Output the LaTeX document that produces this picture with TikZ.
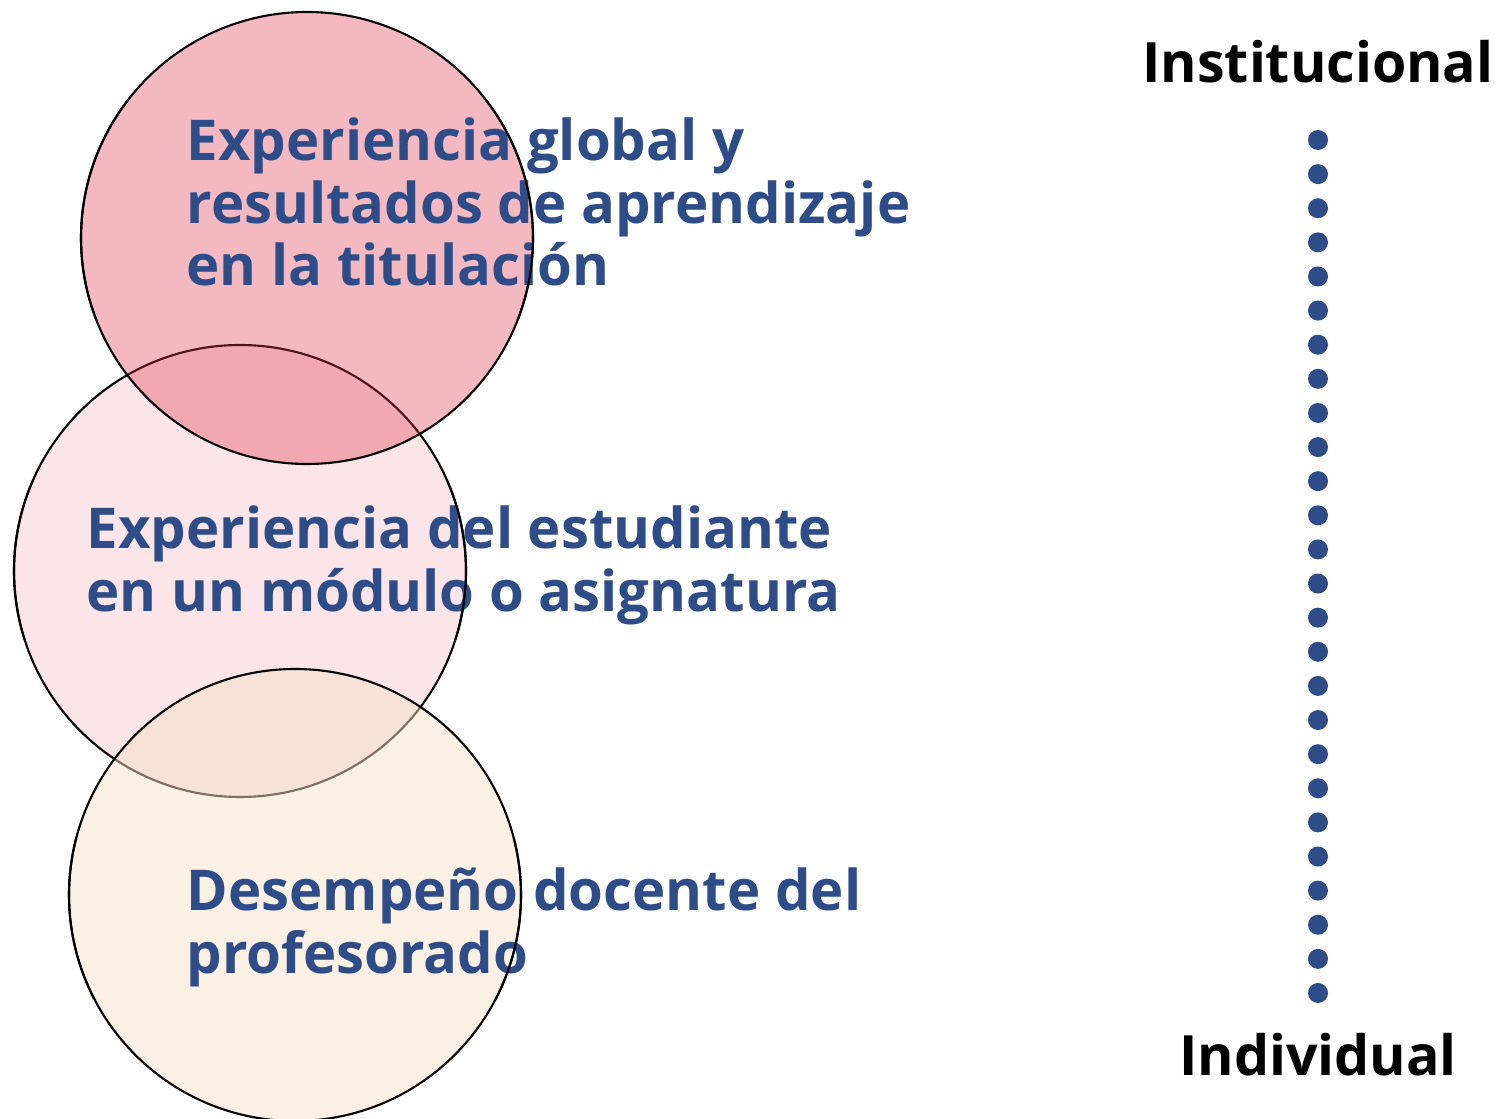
\documentclass[tikz,border=0pt]{standalone}
\usepackage{fontspec}
\setmainfont{Open Sans}
\definecolor{azul}{RGB}{46,77,136}
\definecolor{rosa}{RGB}{224,55,75}
\definecolor{rosaclaro}{RGB}{251,229,232}
\definecolor{crema}{RGB}{245,225,199}
\tikzset{
  borde/.style={draw=black,line width=0.6pt},
  nivel/.style={font=\bfseries\fontsize{16}{17.8}\selectfont,text=azul,align=left,inner sep=0pt,anchor=north west},
  extremo/.style={font=\bfseries\fontsize{15.8}{20}\selectfont,text=black,inner sep=0pt,anchor=base}
}
\begin{document}
\begin{tikzpicture}[x=0.01cm,y=-0.01cm]
\useasboundingbox (0,0) rectangle (1499,1119);
\fill[rosaclaro] (240,571) circle[radius=226];
\draw[borde] (240,571) circle[radius=226];
\fill[crema,fill opacity=0.5] (295,895) circle[radius=226];
\draw[borde] (295,895) circle[radius=226];
\fill[rosa,fill opacity=0.35] (307,238) circle[radius=226];
\draw[borde] (307,238) circle[radius=226];
\node[nivel] (titulacion) at (186,117) {Experiencia global y\\resultados de aprendizaje\\en la titulación};
\node[nivel] (modulo) at (86,505) {Experiencia del estudiante\\en un módulo o asignatura};
\node[nivel] (docente) at (186,867) {Desempeño docente del\\profesorado};
\begin{scope}
\clip (0,100) rectangle (1499,320);
\draw[borde] (307,238) circle[radius=226];
\end{scope}
\begin{scope}
\clip (0,480) rectangle (1499,640);
\draw[borde] (240,571) circle[radius=226];
\end{scope}
\begin{scope}
\clip (0,840) rectangle (1499,1000);
\draw[borde] (295,895) circle[radius=226];
\end{scope}
\node[extremo] (institucional) at (1318,83) {Institucional};
\node[extremo] (individual) at (1318,1076) {Individual};
\foreach \i in {0,...,25}
  \fill[azul] (1318,140+34.12*\i) circle[radius=10];
\end{tikzpicture}
\end{document}
